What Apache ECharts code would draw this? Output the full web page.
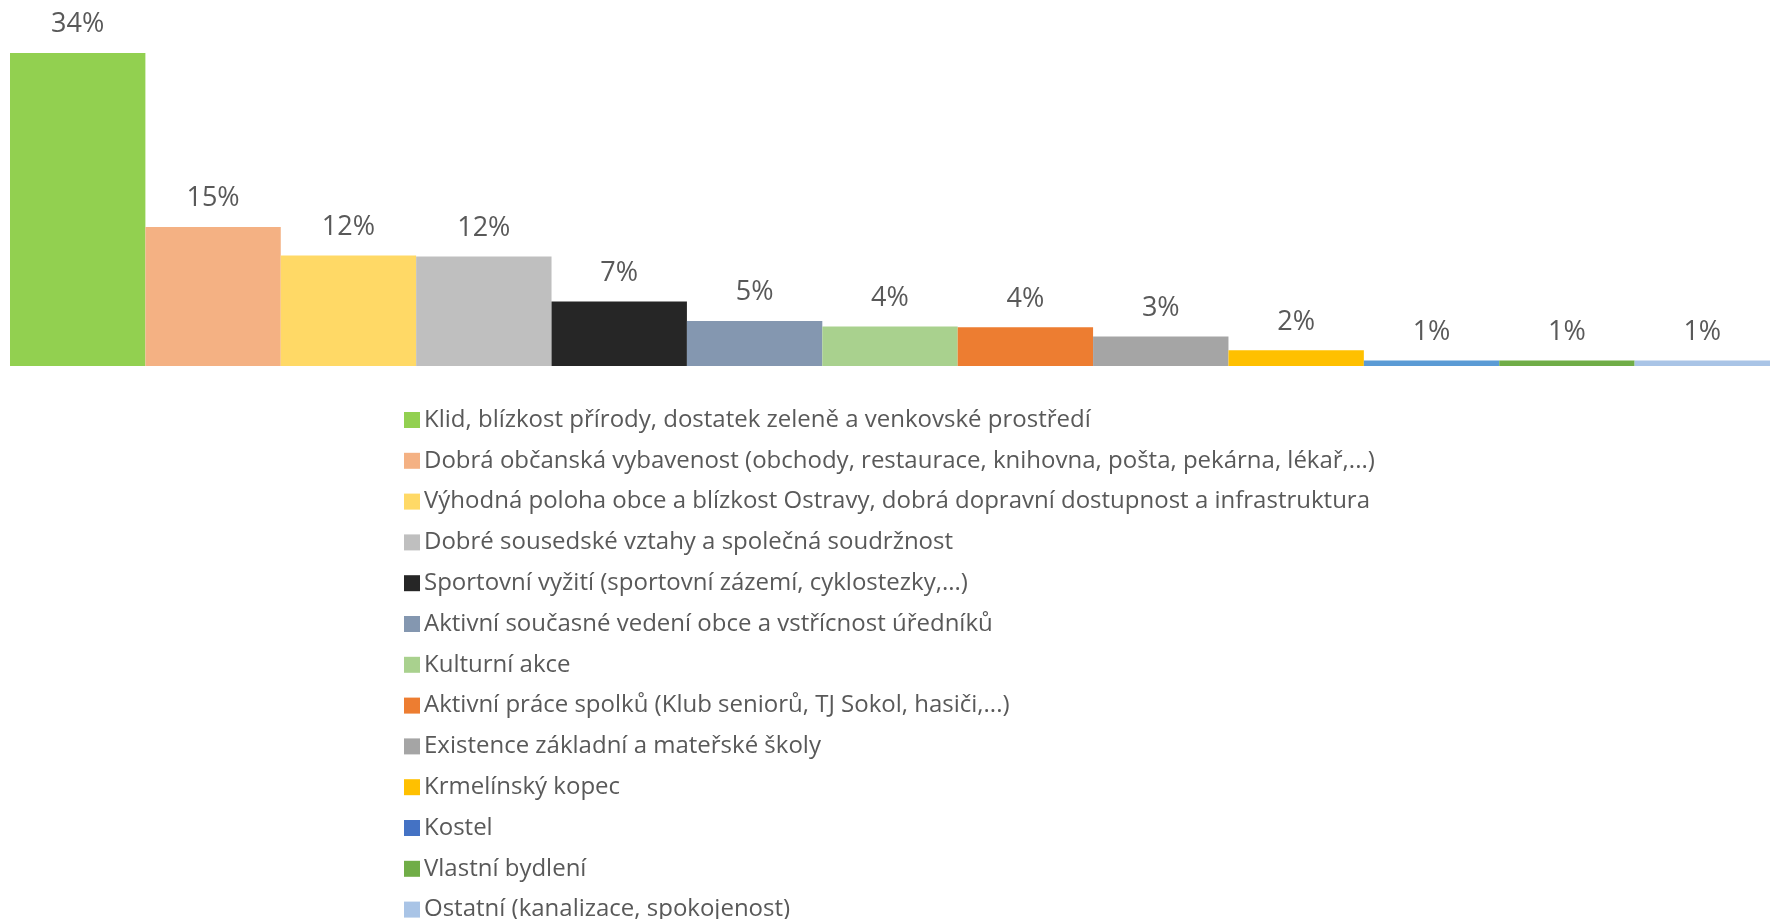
<!DOCTYPE html>
<html>
<head>
<meta charset="utf-8">
<script src="https://cdn.jsdelivr.net/npm/echarts@6/dist/echarts.min.js"></script>
<style>
  html, body { margin: 0; padding: 0; background: #fff; }
  #chart { width: 1773px; height: 919px; }
</style>
</head>
<body>
<div id="chart"></div>
<script>
// answers (one series per answer, Excel-style clustered column with gap 0)
var names = [
  'Klid, blízkost přírody, dostatek zeleně a venkovské prostředí',
  'Dobrá občanská vybavenost (obchody, restaurace, knihovna, pošta, pekárna, lékař,...)',
  'Výhodná poloha obce a blízkost Ostravy, dobrá dopravní dostupnost a infrastruktura',
  'Dobré sousedské vztahy a společná soudržnost',
  'Sportovní vyžití (sportovní zázemí, cyklostezky,...)',
  'Aktivní současné vedení obce a vstřícnost úředníků',
  'Kulturní akce',
  'Aktivní práce spolků (Klub seniorů, TJ Sokol, hasiči,...)',
  'Existence základní a mateřské školy',
  'Krmelínský kopec',
  'Kostel',
  'Vlastní bydlení',
  'Ostatní (kanalizace, spokojenost)'
];
var values = [34.0, 15.1, 12.0, 11.9, 7.0, 4.9, 4.3, 4.2, 3.2, 1.7, 0.6, 0.6, 0.6];
var colors = ['#92D050', '#F4B183', '#FFD966', '#BFBFBF', '#262626', '#8497B0', '#A9D18E',
              '#ED7D31', '#A5A5A5', '#FFC000', '#5B9BD5', '#70AD47', '#A9C4E6'];
var legendColors = ['#92D050', '#F4B183', '#FFD966', '#BFBFBF', '#262626', '#8497B0', '#A9D18E',
                    '#ED7D31', '#A5A5A5', '#FFC000', '#4472C4', '#70AD47', '#A9C4E6'];

var font = '"Open Sans", "Noto Sans", sans-serif';

var series = names.map(function (n, i) {
  return {
    name: n,
    type: 'bar',
    barGap: '0%',
    barCategoryGap: '0%',
    itemStyle: { color: colors[i] },
    label: {
      show: true,
      position: 'top',
      distance: 15,
      color: '#595959',
      fontSize: 27,
      fontFamily: font,
      formatter: function (p) { return Math.round(p.value) + '%'; }
    },
    data: [values[i]]
  };
});

var chart = echarts.init(document.getElementById('chart'));
chart.setOption({
  animation: false,
  grid: { left: 10, right: 3, top: 0, bottom: 553, containLabel: false },
  xAxis: {
    type: 'category',
    data: [''],
    axisLine: { show: false },
    axisTick: { show: false },
    axisLabel: { show: false }
  },
  yAxis: {
    type: 'value',
    min: 0,
    max: 39.75,
    show: false,
    splitLine: { show: false }
  },
  legend: {
    orient: 'vertical',
    left: 399,
    top: 403,
    height: 700,
    itemWidth: 16,
    itemHeight: 16,
    itemGap: 16.8,
    icon: 'rect',
    selectedMode: false,
    textStyle: { fontSize: 24, lineHeight: 24, color: '#595959', fontFamily: font, padding: [0, 0, 0, -1] },
    data: names.map(function (n, i) {
      return { name: n, itemStyle: { color: legendColors[i] } };
    })
  },
  series: series
});
</script>
</body>
</html>
